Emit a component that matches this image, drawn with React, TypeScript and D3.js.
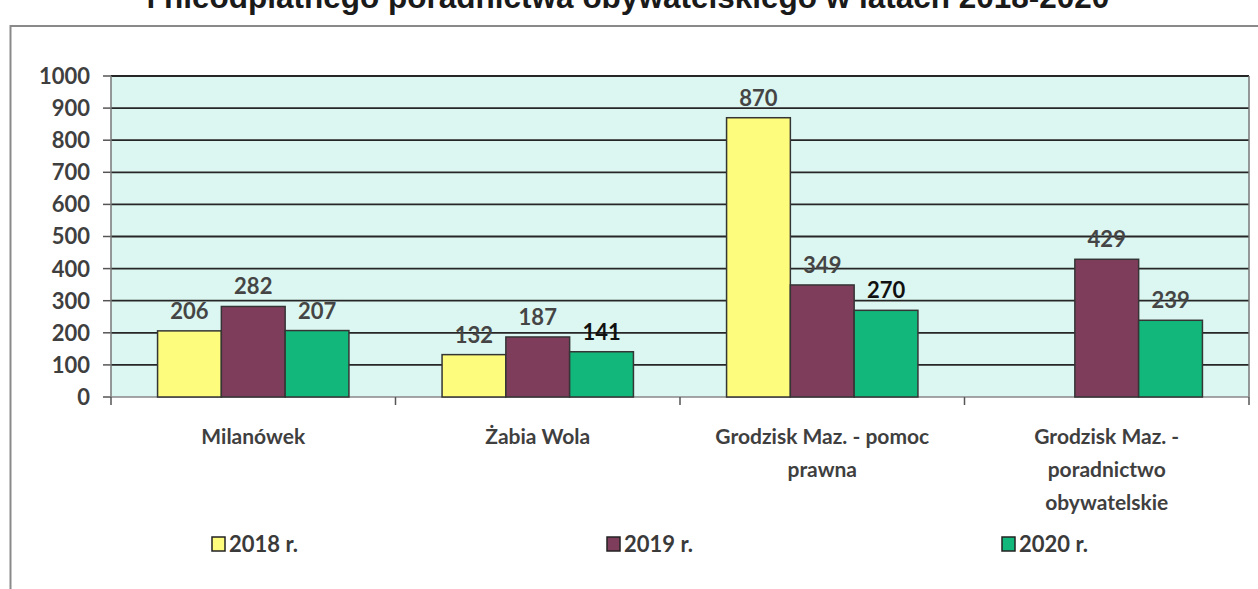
import * as d3 from "d3";

const categories = [
  "Milanówek",
  "Żabia Wola",
  "Grodzisk Maz. - pomoc prawna",
  "Grodzisk Maz. - poradnictwo obywatelskie",
];
const categoryLines = [
  ["Milanówek"],
  ["Żabia Wola"],
  ["Grodzisk Maz. - pomoc", "prawna"],
  ["Grodzisk Maz. -", "poradnictwo", "obywatelskie"],
];
const seriesNames = ["2018 r.", "2019 r.", "2020 r."];
const values2018: (number | null)[] = [206, 132, 870, null];
const values2019: (number | null)[] = [282, 187, 349, 429];
const values2020: (number | null)[] = [207, 141, 270, 239];
const yTicks = [0, 100, 200, 300, 400, 500, 600, 700, 800, 900, 1000];
const darkLabels = ["141", "270"];
const title = "i nieodpłatnego poradnictwa obywatelskiego w latach 2018-2020";

const colors = ["#fdfc7c", "#7f3d5c", "#12b87b"];
const font = "Lato, 'Open Sans', sans-serif";

export default function App() {
  const width = 1258;
  const height = 589;
  const plotLeft = 111;
  const plotRight = 1249;
  const plotTop = 76;
  const plotBottom = 397;

  const series = [values2018, values2019, values2020];

  const x = d3
    .scaleBand<string>()
    .domain(categories)
    .range([plotLeft, plotRight])
    .paddingInner(0)
    .paddingOuter(0);

  const x1 = d3
    .scaleBand<string>()
    .domain(seriesNames)
    .range([0, x.bandwidth()])
    .paddingOuter(0.73)
    .paddingInner(0);

  const y = d3.scaleLinear().domain([0, 1000]).range([plotBottom, plotTop]);

  const legendX = d3
    .scalePoint<string>()
    .domain(seriesNames)
    .range([212, 1002]);

  return (
    <svg
      width={width}
      height={height}
      style={{ position: "absolute", left: 0, top: 0, background: "#fff" }}
      fontFamily={font}
    >
      <text
        x={628}
        y={8}
        textAnchor="middle"
        fontFamily="'Liberation Sans', Arial, sans-serif"
        fontWeight="bold"
        fontSize={31.5}
        fill="#1a1a1a"
      >
        {title}
      </text>

      <rect
        x={10.5}
        y={26}
        width={width + 10}
        height={height}
        fill="none"
        stroke="#8a8a8a"
        strokeWidth={2}
      />

      <rect
        x={plotLeft}
        y={plotTop}
        width={plotRight - plotLeft}
        height={plotBottom - plotTop}
        fill="#dcf7f1"
      />

      {yTicks.map((t) => (
        <g key={t}>
          {t > 0 && (
            <line
              x1={plotLeft}
              x2={plotRight}
              y1={y(t)}
              y2={y(t)}
              stroke="#262626"
              strokeWidth={1.8}
            />
          )}
          <line
            x1={plotLeft - 8}
            x2={plotLeft}
            y1={y(t)}
            y2={y(t)}
            stroke="#555"
            strokeWidth={1.5}
          />
          <text
            x={90}
            y={y(t)}
            dy="0.36em"
            textAnchor="end"
            fontWeight="bold"
            fontSize={22}
            fill="#3f3f3f"
          >
            {t}
          </text>
        </g>
      ))}

      <line
        x1={plotLeft}
        x2={plotLeft}
        y1={plotTop}
        y2={plotBottom}
        stroke="#777"
        strokeWidth={1.5}
      />
      <line
        x1={plotRight}
        x2={plotRight}
        y1={plotTop}
        y2={plotBottom}
        stroke="#777"
        strokeWidth={1.5}
      />
      <line
        x1={plotLeft}
        x2={plotRight}
        y1={plotBottom}
        y2={plotBottom}
        stroke="#888"
        strokeWidth={1.5}
      />
      {[...categories.map((c) => x(c) as number), plotRight].map((xv, i) => (
        <line
          key={i}
          x1={xv}
          x2={xv}
          y1={plotBottom}
          y2={plotBottom + 8}
          stroke="#555"
          strokeWidth={1.5}
        />
      ))}

      {categories.map((c, ci) => (
        <g key={c} transform={`translate(${x(c)},0)`}>
          {series.map((vals, si) => {
            const v = vals[ci];
            if (v == null) return null;
            const bx = x1(seriesNames[si]) as number;
            const label = String(v);
            return (
              <g key={si}>
                <rect
                  x={bx}
                  y={y(v)}
                  width={x1.bandwidth()}
                  height={y(0) - y(v)}
                  fill={colors[si]}
                  stroke="#353535"
                  strokeWidth={1.5}
                />
                <text
                  x={bx + x1.bandwidth() / 2}
                  y={y(v) - 12}
                  textAnchor="middle"
                  fontWeight="bold"
                  fontSize={22}
                  fill={darkLabels.includes(label) ? "#111" : "#454545"}
                >
                  {label}
                </text>
              </g>
            );
          })}
          {categoryLines[ci].map((line, li) => (
            <text
              key={li}
              x={x.bandwidth() / 2}
              y={444 + li * 33}
              textAnchor="middle"
              fontWeight="bold"
              fontSize={21}
              fill="#3f3f3f"
            >
              {line}
            </text>
          ))}
        </g>
      ))}

      {seriesNames.map((s, si) => (
        <g key={s} transform={`translate(${legendX(s)},${544})`}>
          <rect
            x={0}
            y={-7}
            width={13}
            height={14}
            fill={colors[si]}
            stroke="#222"
            strokeWidth={1.5}
          />
          <text
            x={17}
            y={0}
            dy="0.36em"
            fontWeight="bold"
            fontSize={22}
            fill="#3a3a3a"
          >
            {s}
          </text>
        </g>
      ))}
    </svg>
  );
}
